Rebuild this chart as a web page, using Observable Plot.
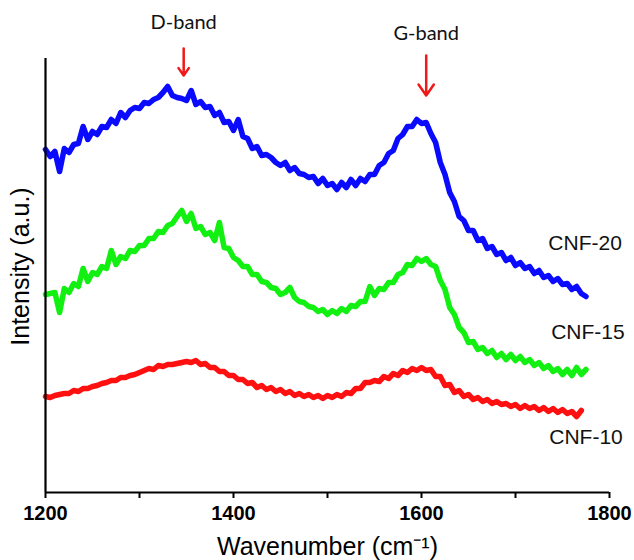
<!DOCTYPE html>
<html>
<head>
<meta charset="utf-8">
<script src="https://cdn.jsdelivr.net/npm/d3@7"></script>
<script src="https://cdn.jsdelivr.net/npm/@observablehq/plot@0.6"></script>
<style>
  html, body { margin: 0; padding: 0; background: #fff; }
  #chart svg { display: block; }
</style>
</head>
<body>
<div id="chart"></div>
<script>
// Wavenumber grid (cm^-1), one sample every 5 cm^-1 starting at 1200
const startWavenumber = 1200;
const stepWavenumber = 5;

// Intensity (a.u.) (noisy spectra)
const cnf20 = [343,336,341,321,344,340,348,349,366,353,
  361,358,366,365,373,369,380,375,382,385,
  384,390,389,393,395,400,406,397,395,394,
  392,402,388,391,385,386,377,380,370,371,
  362,373,356,354,344,346,337,338,335,330,
  327,330,322,325,319,318,315,316,309,314,
  307,309,303,310,305,313,307,314,311,318,
  318,327,330,339,342,354,358,366,366,373,
  369,370,359,350,330,318,300,291,276,272,
  262,262,252,254,244,246,238,240,232,235,
  227,230,224,226,219,222,215,217,211,214,
  208,209,203,206,199,196];
const cnf15 = [198,199,200,180,204,200,209,206,224,211,
  220,218,226,224,242,228,236,234,242,241,
  247,247,254,254,261,260,267,269,276,282,
  271,279,264,266,258,260,252,270,245,244,
  235,232,226,226,218,218,211,210,205,204,
  198,200,205,195,191,190,186,185,181,183,
  178,182,179,184,181,187,186,191,191,206,
  197,204,203,210,210,218,220,228,227,234,
  231,234,228,226,212,203,185,178,165,160,
  150,151,143,145,139,142,135,139,133,138,
  132,136,130,133,127,130,124,127,121,124,
  118,123,117,125,118,123];
const cnf10 = [96,95,97,98,99,99,102,101,104,104,
  106,107,109,110,112,112,115,115,117,118,
  120,122,124,123,127,126,128,128,129,130,
  131,130,132,128,129,125,125,121,121,117,
  117,113,113,109,110,105,107,103,105,101,
  103,99,101,97,99,96,98,95,97,94,
  97,95,98,96,100,99,104,104,110,110,
  112,111,116,114,119,117,122,120,124,122,
  125,122,123,116,116,107,108,100,102,96,
  98,93,95,91,93,89,91,88,89,86,
  88,84,87,84,86,82,85,81,84,80,
  83,79,81,76,82];

const seriesNames = ["CNF-20", "CNF-15", "CNF-10"];
const seriesColors = ["#0a0aff", "#12f012", "#ff1010"];
const seriesValues = [cnf20, cnf15, cnf10];

// Curve label anchors (wavenumber, intensity)
const labelX = [1774, 1777, 1775];
const labelY = [249, 160, 55];

// Band annotations
const bandNames = ["D-band", "G-band"];
const bandX = [1347, 1605];
const bandTextY = [470, 459];
const bandArrowTop = [444, 437];
const bandArrowTip = [417, 397];

// Axis ticks
const xTicks = [1200, 1300, 1400, 1500, 1600, 1700, 1800];
const xTickLabels = ["1200", "", "1400", "", "1600", "", "1800"];

const spectra = seriesValues.flatMap((vals, k) =>
  vals.map((v, i) => ({wn: startWavenumber + i * stepWavenumber, intensity: v, series: seriesNames[k]})));
const curveLabels = seriesNames.map((s, k) => ({name: s, x: labelX[k], y: labelY[k]}));
const bands = bandNames.map((b, k) => ({name: b, x: bandX[k], ty: bandTextY[k], y1: bandArrowTop[k], y2: bandArrowTip[k]}));

const chart = Plot.plot({
  width: 634,
  height: 560,
  marginLeft: 45,
  marginRight: 25,
  marginTop: 58,
  marginBottom: 68,
  style: {fontFamily: "'Liberation Sans', Arial, sans-serif", color: "#000", background: "#fff"},
  x: {domain: [1200, 1800]},
  y: {domain: [0, 434], axis: null},
  color: {domain: seriesNames, range: seriesColors},
  marks: [
    Plot.line(spectra, {x: "wn", y: "intensity", z: "series", stroke: "series",
      strokeWidth: 5.5, strokeLinejoin: "round", strokeLinecap: "round"}),
    Plot.ruleX([1200], {y1: 0, y2: 434, stroke: "#000", strokeWidth: 2.2}),
    Plot.ruleY([0], {x1: 1200, x2: 1800, stroke: "#000", strokeWidth: 2.2}),
    Plot.axisX({ticks: xTicks, tickFormat: (d) => xTickLabels[xTicks.indexOf(d)], tickSize: 6,
      tickPadding: 7, fontSize: 20, fontWeight: "bold", strokeWidth: 2, label: null}),
    Plot.text(["Wavenumber (cm⁻¹)"], {frameAnchor: "bottom", dy: 54, fontSize: 25,
      textAnchor: "middle", lineAnchor: "middle"}),
    Plot.text(["Intensity (a.u.)"], {frameAnchor: "left", dx: -25, dy: -9, rotate: -90, fontSize: 25,
      textAnchor: "middle", lineAnchor: "middle"}),
    Plot.text(curveLabels, {x: "x", y: "y", text: "name", fontSize: 21, fill: "#111"}),
    Plot.arrow(bands, {x1: "x", x2: "x", y1: "y1", y2: "y2", stroke: "#f01818", strokeWidth: 2.5,
      headLength: 11, headAngle: 70}),
    Plot.text(bands, {x: "x", y: "ty", text: "name", fontSize: 20, fontFamily: "Lato, 'Open Sans', sans-serif", fill: "#111"})
  ]
});
document.getElementById("chart").appendChild(chart);
</script>
</body>
</html>
